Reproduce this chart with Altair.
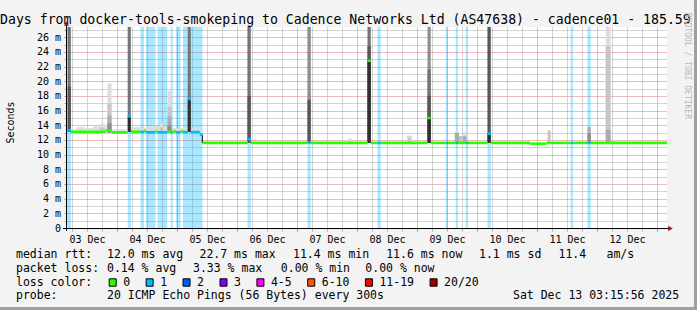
import altair as alt
import pandas as pd

MONO = "DejaVu Sans Mono"

# ------------------------------------------------------------------ values
title_text = "Days from docker-tools-smokeping to Cadence Networks Ltd (AS47638) - cadence01 - 185.59"
watermark_text = "RRDTOOL / TOBI OETIKER"
y_title = "Seconds"

# x = hours after 03 Dec 00:00, y = milliseconds
day_labels = ["03 Dec", "04 Dec", "05 Dec", "06 Dec", "07 Dec",
              "08 Dec", "09 Dec", "10 Dec", "11 Dec", "12 Dec"]
x_domain = [4.0, 244.0]
y_domain = [0.0, 27.4]

# intervals with packet loss (light blue full-height bars)
loss_start = [4.0, 28.3, 33.4, 35.6, 40.2, 45.5, 47.6, 50.4, 76.2, 100.2,
              128.2, 155.5, 159.5, 163.5, 172.2, 205.5, 212.2]
loss_end = [5.6, 29.6, 34.8, 39.4, 44.1, 46.3, 49.4, 58.2, 77.5, 101.5,
            129.5, 156.4, 160.4, 164.4, 173.5, 206.4, 213.5]

# median rtt step segments: [start h, end h, median ms, lost pings]
median_a = [
    [4.0, 5.6, 13.35, 1], [5.6, 19.5, 13.12, 0], [19.5, 21.9, 13.3, 0],
    [21.9, 28.3, 13.03, 0], [28.3, 29.6, 15.25, 1], [29.6, 33.4, 13.12, 0],
    [33.4, 34.8, 13.10, 1], [34.8, 35.6, 13.2, 0], [35.6, 39.4, 13.05, 1],
    [39.4, 40.2, 13.15, 0], [40.2, 44.1, 13.05, 1], [44.1, 45.5, 13.15, 0],
    [45.5, 46.3, 13.05, 1], [46.3, 47.6, 13.15, 0], [47.6, 49.4, 13.05, 1],
    [49.4, 50.4, 13.15, 0], [50.4, 52.3, 13.08, 1], [52.3, 53.5, 17.6, 1],
    [53.5, 57.1, 13.08, 1], [57.1, 58.2, 12.75, 1],
]
median_b = [
    [58.2, 76.2, 11.6, 0], [76.2, 77.5, 12.1, 1], [77.5, 100.2, 11.6, 0],
    [100.2, 101.5, 11.65, 1], [101.5, 124.2, 11.6, 0], [124.2, 125.5, 22.8, 0],
    [125.5, 128.2, 11.6, 0], [128.2, 129.5, 11.6, 1], [129.5, 148.2, 11.6, 0],
    [148.2, 149.5, 15.0, 0], [149.5, 155.5, 11.6, 0], [155.5, 156.4, 11.6, 1],
    [156.4, 159.5, 11.6, 0], [159.5, 160.4, 11.6, 1], [160.4, 163.5, 11.6, 0],
    [163.5, 164.4, 11.6, 1], [164.4, 172.2, 11.6, 0], [172.2, 173.5, 12.85, 1],
    [173.5, 189.3, 11.6, 0], [189.3, 195.8, 11.5, 0], [195.8, 205.5, 11.6, 0],
    [205.5, 206.4, 11.6, 1], [206.4, 212.2, 11.6, 0], [212.2, 213.5, 11.6, 1],
    [213.5, 244.0, 11.6, 0],
]

# smoke bands: [density level 1..7, start h, end h, low ms, high ms]
smoke_a = [
    [1, 5.6, 7.8, 13.0, 13.45], [1, 7.8, 11.1, 13.0, 13.75], [1, 11.1, 14.4, 13.0, 13.6],
    [1, 14.4, 17.1, 13.0, 13.85], [1, 17.1, 19.1, 13.0, 14.2], [2, 17.1, 19.1, 13.0, 13.7],
    [1, 19.1, 20.2, 13.0, 13.8], [1, 20.2, 21.8, 13.0, 19.7], [2, 20.2, 21.8, 13.0, 17.0],
    [3, 20.2, 21.8, 13.0, 15.3], [4, 20.2, 21.8, 13.0, 14.3], [1, 21.8, 27.8, 13.0, 13.45],
    [1, 29.6, 33.8, 13.0, 13.75], [1, 33.8, 35.8, 13.0, 13.65], [1, 35.8, 41.1, 13.0, 13.9],
    [1, 41.1, 42.4, 13.0, 14.3], [2, 41.1, 42.4, 13.0, 13.7], [1, 42.4, 44.2, 13.0, 13.85],
    [1, 44.2, 45.8, 13.0, 18.7], [2, 44.2, 45.8, 13.0, 16.5], [3, 44.2, 45.8, 13.0, 15.2],
    [4, 44.2, 45.8, 13.0, 14.0], [1, 45.8, 52.3, 13.0, 13.6], [1, 53.5, 57.1, 13.0, 13.6],
    [7, 57.9, 58.4, 11.6, 12.7],
]
smoke_spikes = [
    [5, 4.3, 5.5, 13.1, 28.0], [6, 4.3, 5.5, 13.1, 19.3],
    [5, 28.3, 29.5, 13.1, 28.0], [7, 28.3, 29.5, 13.1, 15.25],
    [5, 52.3, 53.5, 13.1, 28.0], [7, 52.3, 53.5, 13.1, 17.6],
    [5, 76.2, 77.5, 11.6, 28.0], [6, 76.2, 77.5, 11.6, 18.0],
    [4, 100.2, 101.5, 11.6, 28.0], [6, 100.2, 101.5, 11.6, 17.5],
    [5, 124.2, 125.5, 11.6, 28.0], [6, 124.2, 125.5, 11.6, 24.8], [7, 124.2, 125.5, 11.6, 22.8],
    [4, 148.2, 149.5, 11.6, 28.0], [5, 148.2, 149.5, 11.6, 21.6], [6, 148.2, 149.5, 11.6, 18.0],
    [7, 148.2, 149.5, 11.6, 15.0],
    [6, 172.2, 173.5, 11.6, 28.0], [7, 172.2, 173.5, 11.6, 12.85],
    [1, 219.5, 221.4, 11.6, 28.0], [2, 219.5, 221.4, 11.6, 24.8], [3, 219.5, 221.4, 11.6, 13.4],
]
smoke_b = [
    [1, 65.0, 66.3, 11.6, 11.9], [1, 116.4, 117.8, 11.6, 12.2], [1, 139.8, 142.0, 11.6, 12.6],
    [2, 140.4, 141.4, 11.6, 12.3], [3, 159.1, 160.8, 11.6, 13.0], [2, 160.8, 162.4, 11.6, 12.55],
    [1, 162.4, 163.8, 11.6, 13.1], [3, 162.4, 163.8, 11.6, 12.5], [2, 196.2, 197.5, 11.6, 13.3],
    [1, 199.5, 200.3, 11.6, 12.1], [1, 208.3, 209.8, 11.6, 11.95], [3, 212.2, 213.5, 11.6, 13.75],
    [4, 212.2, 213.5, 11.6, 12.9], [1, 232.2, 233.5, 11.6, 12.05],
]

# legend / statistics
loss_names = ["0", "1", "2", "3", "4-5", "6-10", "11-19", "20/20"]
rtt_stats = [12.0, 22.7, 11.4, 11.6]   # avg, max, min, now (ms)
rtt_sd = 1.1
rtt_am_s = 11.4
loss_stats = [0.14, 3.33, 0.00, 0.00]  # avg, max, min, now (%)
probe_text = "20 ICMP Echo Pings (56 Bytes) every 300s"
timestamp = "Sat Dec 13 03:15:56 2025"

# ------------------------------------------------------------------ style / layout
W, H = 697, 310
PL, PT, PW, PH = 67, 27, 600, 201
loss_colors = ["#26ff00", "#00b8ff", "#0059ff", "#7e00ff",
               "#ff00ff", "#ff5500", "#ff0000", "#a10000"]
smoke_grays = ["#dcdcdc", "#c6c6c6", "#ababab", "#8e8e8e", "#747474", "#575757", "#2f2f2f"]
GRID_MINOR = "#a9a9a9"
GRID_MAJOR = "#dc7474"
ARROW = "#9b1c1c"
ONE = alt.Data(values=[{}])


def loss_cat(n):
    if n <= 3:
        return str(n)
    if n <= 5:
        return "4-5"
    if n <= 10:
        return "6-10"
    if n <= 19:
        return "11-19"
    return "20/20"


loss_df = pd.DataFrame({"t0": loss_start, "t1": loss_end})
median_df = pd.DataFrame(median_a + median_b, columns=["t0", "t1", "ms", "loss"])
median_df["cat"] = median_df["loss"].map(loss_cat)
smoke_df = pd.DataFrame(smoke_a + smoke_spikes + smoke_b,
                        columns=["level", "t0", "t1", "lo", "hi"])
smoke_df = smoke_df.sort_values("level", kind="stable").reset_index(drop=True)
smoke_df["shade"] = smoke_df["level"].map(lambda v: "L%d" % v)

day_arr = "[" + ",".join("'%s'" % d for d in day_labels) + "]"
x_axis = alt.Axis(
    values=list(range(6, 244, 6)),
    labelExpr="datum.value % 24 == 12 ? " + day_arr + "[floor(datum.value / 24)] : ''",
    labelFont=MONO, labelFontSize=10, labelColor="#000", labelPadding=3,
    labelOverlap=False, labelFlush=False,
    tickSize=3, tickWidth=1,
    tickColor={"condition": {"test": "datum.value % 24 == 0", "value": GRID_MAJOR}, "value": GRID_MINOR},
    grid=True, gridDash=[1, 1], gridWidth=1,
    gridColor={"condition": {"test": "datum.value % 24 == 0", "value": GRID_MAJOR}, "value": GRID_MINOR},
    domain=False, title=None,
)
nb = "\u00a0"
y_axis = alt.Axis(
    values=list(range(0, 28)),
    labelExpr="datum.value == 0 ? '0" + nb + nb + "' : (datum.value % 2 == 0 ? datum.value + ' m' : '')",
    labelFont=MONO, labelFontSize=10, labelColor="#000", labelPadding=3.5,
    labelOverlap=False,
    tickSize=3, tickWidth=1,
    tickColor={"condition": {"test": "datum.value % 2 == 0", "value": GRID_MAJOR}, "value": GRID_MINOR},
    grid=True, gridDash=[1, 1], gridWidth=1,
    gridColor={"condition": {"test": "datum.value % 2 == 0", "value": GRID_MAJOR}, "value": GRID_MINOR},
    domain=False, title=None,
)
xs = alt.Scale(domain=x_domain, nice=False, zero=False)
ys = alt.Scale(domain=y_domain, nice=False, zero=False)


def X(f):
    return alt.X(f + ":Q", scale=xs, axis=x_axis, title=None)


def Y(f):
    return alt.Y(f + ":Q", scale=ys, axis=y_axis, title=None)


loss_layer = alt.Chart(loss_df).mark_rect(color=loss_colors[1], opacity=0.33).encode(
    x=X("t0"), x2="t1", y=alt.value(0), y2=alt.value(PH))

smoke_layer = alt.Chart(smoke_df).mark_rect(clip=True).encode(
    x=X("t0"), x2="t1", y=Y("lo"), y2="hi",
    fill=alt.Fill("shade:N", scale=alt.Scale(domain=["L%d" % i for i in range(1, 8)], range=smoke_grays),
                  legend=None),
    order=alt.Order("level:Q"))

median_layer = alt.Chart(median_df).mark_rule(strokeWidth=2.6, clip=True).encode(
    x=X("t0"), x2="t1", y=Y("ms"),
    stroke=alt.Stroke("cat:N", scale=alt.Scale(domain=loss_names, range=loss_colors), legend=None))


def vx(xa):
    return alt.value(xa - PL)


def vy(ya):
    return alt.value(ya - PT)


def txt(s, xa, ya, size=11.5, **kw):
    opts = dict(text=s, font=MONO, fontSize=size, align="left", baseline="alphabetic", color="#000")
    opts.update(kw)
    return alt.Chart(ONE).mark_text(**opts).encode(x=vx(xa), y=vy(ya))


def rect(x0, x1, y0, y1, **kw):
    return alt.Chart(ONE).mark_rect(**kw).encode(x=vx(x0), x2=vx(x1), y=vy(y0), y2=vy(y1))


deco = []
# axis lines and arrows
deco.append(alt.Chart(ONE).mark_rule(color="#000", strokeWidth=1).encode(
    x=vx(66.5), y=vy(25), y2=vy(231)))
deco.append(alt.Chart(ONE).mark_rule(color="#000", strokeWidth=1).encode(
    x=vx(63), x2=vx(669), y=vy(228.5)))
deco.append(alt.Chart(ONE).mark_point(shape="triangle-up", filled=True, size=28, color=ARROW, opacity=1).encode(
    x=vx(66.5), y=vy(23.5)))
deco.append(alt.Chart(ONE).mark_point(shape="triangle-right", filled=True, size=28, color=ARROW, opacity=1).encode(
    x=vx(670.5), y=vy(228.5)))
# frame shading
deco.append(rect(694, 697, 0, 310, color="#a0a0a0"))
deco.append(rect(0, 697, 307, 310, color="#a0a0a0"))

# texts
deco.append(txt(title_text, 0, 23.5, size=13.2))
deco.append(txt(y_title, 10.5, 122.5, size=10, angle=270, align="center", baseline="middle"))
deco.append(txt(watermark_text, 687, 13, size=8, angle=90, baseline="middle", color="#b8b8b8"))

row_y = [258, 272, 285.5, 299]
row1 = ["median rtt:",
        "%.1f ms avg" % rtt_stats[0], "%.1f ms max" % rtt_stats[1],
        "%.1f ms min" % rtt_stats[2], "%.1f ms now" % rtt_stats[3],
        "%.1f ms sd" % rtt_sd, "%.1f" % rtt_am_s, "am/s"]
row1_x = [16, 107, 199.5, 293, 386.2, 479, 558.5, 606.5]
row2 = ["packet loss:",
        "%.2f %% avg" % loss_stats[0], "%.2f %% max" % loss_stats[1],
        "%.2f %% min" % loss_stats[2], "%.2f %% now" % loss_stats[3]]
row2_x = [16, 107, 193, 280.8, 365.3]
row4 = ["probe:", probe_text, timestamp]
row4_x = [16, 107, 513]
for s, xa in zip(row1, row1_x):
    deco.append(txt(s, xa, row_y[0]))
for s, xa in zip(row2, row2_x):
    deco.append(txt(s, xa, row_y[1]))
deco.append(txt("loss color:", 16, row_y[2]))
for s, xa in zip(row4, row4_x):
    deco.append(txt(s, xa, row_y[3]))

CHAR_W = 6.93
bx = 108.7
for name, col in zip(loss_names, loss_colors):
    deco.append(rect(bx + 0.5, bx + 7.5, 278.8, 286.2, fill=col, stroke="#000", strokeWidth=1))
    lx = bx + 14.5
    deco.append(txt(name, lx, row_y[2]))
    bx = lx + len(name) * CHAR_W + 15.5

chart = alt.layer(loss_layer, smoke_layer, median_layer, *deco).resolve_scale(
    fill="independent", stroke="independent", color="independent"
).properties(
    width=PW, height=PH,
    padding={"left": PL, "top": PT, "right": W - PL - PW, "bottom": H - PT - PH},
    autosize=alt.AutoSizeParams(type="none"),
    background="#f3f3f3",
).configure_view(stroke=None, fill="white")

chart.save("out.html", embed_options={"renderer": "svg", "actions": False})
